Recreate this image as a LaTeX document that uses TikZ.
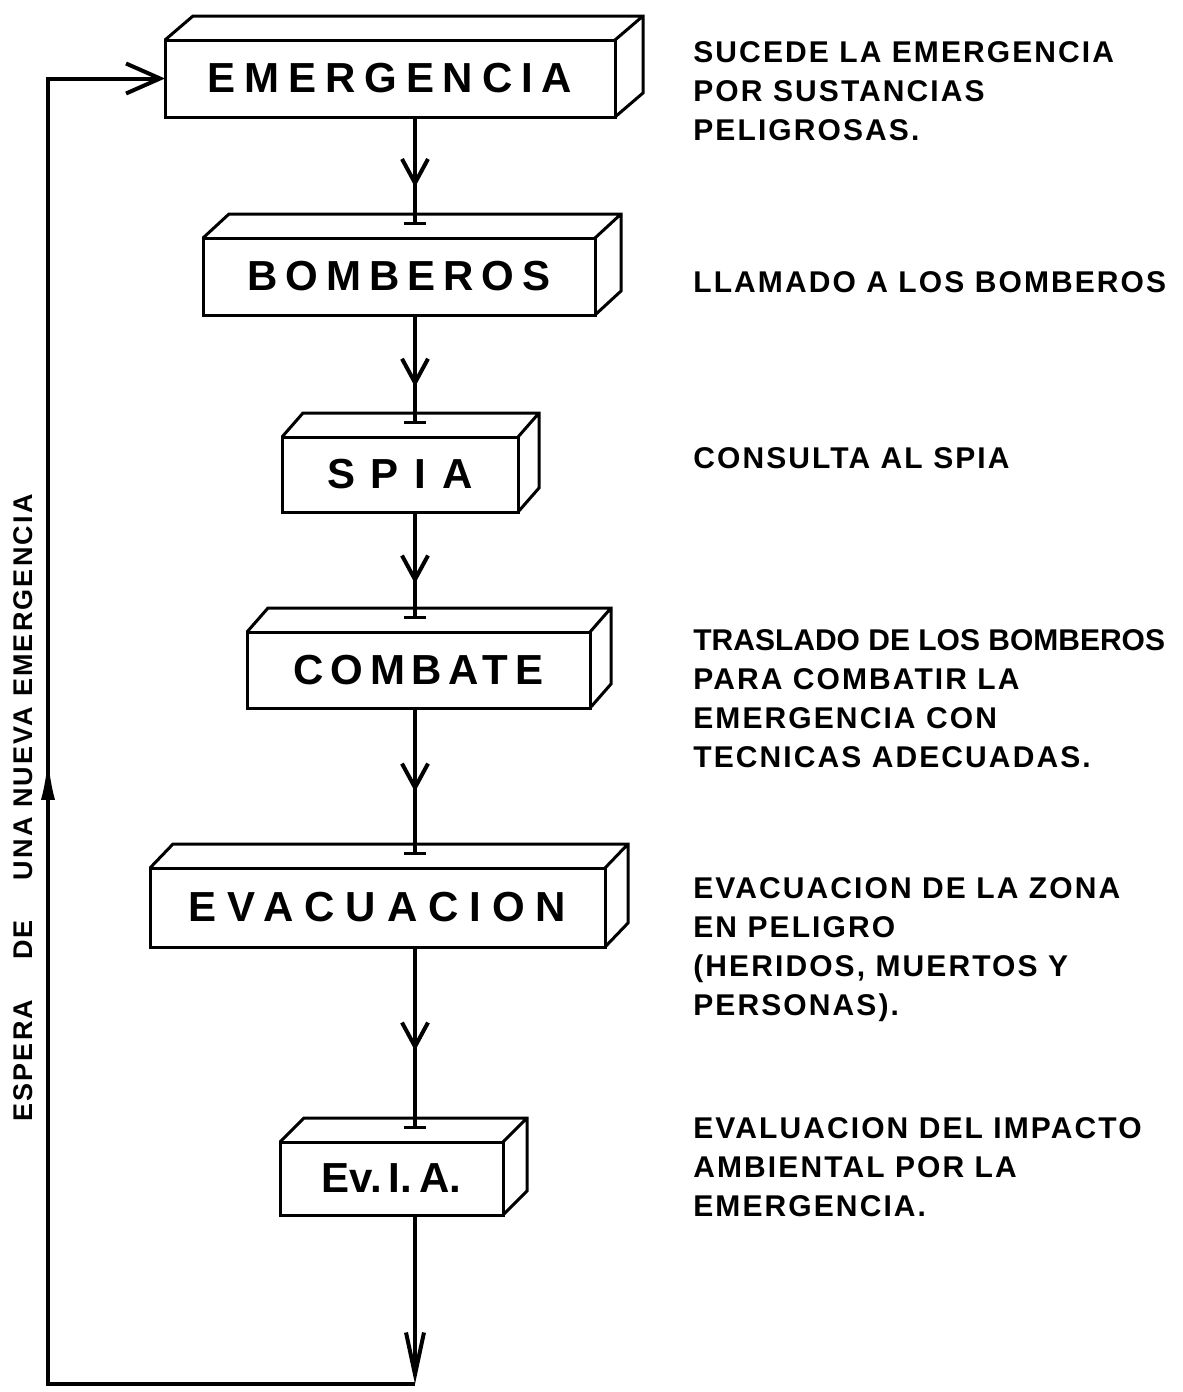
\documentclass[tikz,border=0pt]{standalone}
\usepackage{fontspec}
\setmainfont{Liberation Sans}
\usepackage{tikz}
\usetikzlibrary{arrows.meta,calc,decorations.markings}

\begin{document}
\begin{tikzpicture}[x=0.5pt, y=-0.5pt,
    caja/.style={draw, line width=1.5pt, inner sep=0pt, outer sep=0pt, font=\fontsize{21}{25}\selectfont\bfseries},
    nota/.style={anchor=north west, inner sep=0pt, align=left, font=\fontsize{15}{19.5}\selectfont\bfseries\addfontfeature{LetterSpace=7}},
    linea/.style={line width=2pt},
    flecha/.style={linea, -{Bar[width=11pt,line width=1.6pt]}, postaction={decorate},
        decoration={markings, mark=at position #1 with {\arrow{Straight Barb[length=12pt,width=13pt,line width=2pt]}}}}]
    \useasboundingbox (0,0) rectangle (1183,1392);

    \node [caja, minimum width=225pt, minimum height=38.5pt] (emer) at (390,78.5) {\addfontfeature{LetterSpace=21}EMERGENCIA};
    \node [caja, minimum width=196pt, minimum height=38.5pt] (bomb) at (399,276.5) {\addfontfeature{LetterSpace=19}BOMBEROS};
    \node [caja, minimum width=118pt, minimum height=37.5pt] (spia) at (400,474.5) {\addfontfeature{LetterSpace=38}SPIA};
    \node [caja, minimum width=171.5pt, minimum height=38pt] (comb) at (418.5,670) {\addfontfeature{LetterSpace=16}COMBATE};
    \node [caja, minimum width=227.5pt, minimum height=39.5pt] (evac) at (377.5,907.5) {\addfontfeature{LetterSpace=26}EVACUACION};
    \node [caja, minimum width=111.5pt, minimum height=36.5pt] (evia) at (391.5,1178.5) {Ev.\,I.\,A.};

    \foreach \n/\prof in {emer/28,bomb/26,spia/21,comb/21,evac/23,evia/24} {
        \draw [line width=1.5pt] (\n.north west) -- ++(\prof,-24) -| ($(\n.south east)+(\prof,-24)$) -- (\n.south east)
            (\n.north east) -- ++(\prof,-24);
    }

    \coordinate (eje) at (415,0);
    \coordinate (esq) at (415,1384);
    \coordinate (ret) at (48,1384);
    \foreach \n in {bomb,spia,comb,evac,evia}
        \path (\n.north -| eje) ++(0,-13) coordinate (\n-in);

    \draw [flecha=0.65] (emer.south -| eje) -- (bomb-in);
    \draw [flecha=0.66] (bomb.south -| eje) -- (spia-in);
    \draw [flecha=0.67] (spia.south -| eje) -- (comb-in);
    \draw [flecha=0.57] (comb.south -| eje) -- (evac-in);
    \draw [flecha=0.57] (evac.south -| eje) -- (evia-in);
    \draw [linea, -{Straight Barb[length=21pt,width=9pt,line width=2pt]}] (evia.south -| eje) -- (esq);
    \draw [linea, -{Straight Barb[length=17pt,width=15pt,line width=2pt]}, postaction={decorate},
        decoration={markings, mark=at position 0.555 with {\arrow{Latex[length=21pt,width=7pt]}}}] (esq) -- (ret) |- (emer.west);

    \node [rotate=90, inner sep=0pt, font=\fontsize{13.5}{16}\selectfont\bfseries\addfontfeature{LetterSpace=8}] (espera) at (23,808) {ESPERA\hspace{20pt}DE\hspace{20pt}UNA NUEVA EMERGENCIA};

    \node [nota] (t1) at (693,41) {SUCEDE LA EMERGENCIA\\POR SUSTANCIAS\\PELIGROSAS.};
    \node [nota] (t2) at (693,271) {LLAMADO A LOS BOMBEROS};
    \node [nota] (t3) at (693,447) {CONSULTA AL SPIA};
    \node [nota] (t4) at (693,629) {{\addfontfeature{LetterSpace=0}TRASLADO DE LOS BOMBEROS}\\PARA COMBATIR LA\\EMERGENCIA CON\\TECNICAS ADECUADAS.};
    \node [nota] (t5) at (693,877) {EVACUACION DE LA ZONA\\EN PELIGRO\\(HERIDOS, MUERTOS Y\\PERSONAS).};
    \node [nota] (t6) at (693,1117) {EVALUACION DEL IMPACTO\\AMBIENTAL POR LA\\EMERGENCIA.};
\end{tikzpicture}
\end{document}
